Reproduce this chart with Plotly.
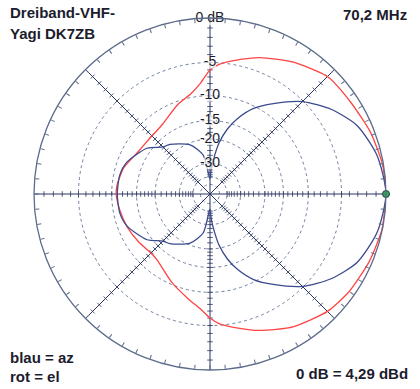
import plotly.graph_objects as go

# ---------------- data ----------------
az_theta = [0, 13, 25, 35, 45, 55, 63, 70, 75, 80, 83, 87, 90, 95, 100, 112, 129, 135, 144, 159, 168, 180,
            192, 201, 216, 225, 231, 248, 260, 265, 270, 273, 277, 280, 285, 290, 297, 305, 315, 325, 335, 347, 360]
az_db = [0, -0.45, -1.4, -3.0, -5.1, -8.0, -10.4, -13.5, -16.5, -21, -25.7, -33, -42, -35.6, -25.6, -20.6, -17.4, -16.7, -14.0, -11.7, -11.1, -11.0,
         -11.1, -11.7, -14.0, -16.7, -17.4, -20.6, -25.6, -35.6, -42, -33, -25.7, -21, -16.5, -13.5, -10.4, -8.0, -5.1, -3.0, -1.4, -0.45, 0]

el_theta = [0, 10, 21, 33, 45, 58, 70, 81, 86, 90, 95, 101, 110, 124, 137, 150, 163, 174, 180,
            190, 202, 214, 225, 231, 247, 259, 265, 270, 274, 280, 290, 302, 315, 325, 337, 348, 360]
el_db = [0, -0.1, -0.4, -0.8, -1.0, -2.1, -3.3, -4.6, -5.2, -6.0, -7.9, -9.4, -10.6, -12.6, -13.1, -12.8, -11.5, -10.9, -10.8,
         -11.2, -11.7, -12.3, -12.8, -12.6, -10.3, -8.4, -7.3, -6.0, -5.2, -4.5, -3.3, -2.0, -1.0, -0.6, -0.3, -0.05, 0]

ring_db = [-5, -10, -15, -20, -30, -40, -50]
label_db = [0, -5, -10, -15, -20, -30]
label_text = ["0 dB", "-5", "-10", "-15", "-20", "-30"]
axis_angles = [0, 45, 90, 135]
tick_db = list(range(-1, -21, -1)) + list(range(-22, -42, -2))


def rad(db):
    """ARRL log-periodic radial scale (0.89 per 2 dB)."""
    return 0.89 ** (-db / 2.0)


INK = "#1c1c2e"
RING = "#7080a2"
AXIS = "#2a3560"
BLUE = "#3a4a8e"
RED = "#ff4444"

fig = go.Figure()

# diameters
for a in axis_angles:
    fig.add_trace(go.Scatterpolar(r=[1, 0, 1], theta=[a, a, a + 180], mode="lines",
                                  line=dict(color=AXIS, width=1), hoverinfo="skip", showlegend=False))
    # ticks on diameters
    rr = [rad(d) for d in tick_db] * 2
    tt = [a] * len(tick_db) + [a + 180] * len(tick_db)
    fig.add_trace(go.Scatterpolar(r=rr, theta=tt, mode="markers",
                                  marker=dict(symbol="line-ns", size=4, angle=-a,
                                              line=dict(color=AXIS, width=0.8)),
                                  hoverinfo="skip", showlegend=False))

# patterns
fig.add_trace(go.Scatterpolar(r=[rad(d) for d in el_db], theta=el_theta, mode="lines",
                              line=dict(color=RED, width=1.3, shape="spline", smoothing=0.6),
                              name="el", showlegend=False))
fig.add_trace(go.Scatterpolar(r=[rad(d) for d in az_db], theta=az_theta, mode="lines",
                              line=dict(color=BLUE, width=1.3, shape="spline", smoothing=0.7),
                              name="az", showlegend=False))

# max point
fig.add_trace(go.Scatterpolar(r=[rad(0)], theta=[0], mode="markers",
                              marker=dict(color="#2fb050", size=7, line=dict(color="#1d4030", width=1)),
                              hoverinfo="skip", showlegend=False))

# ring labels
fig.add_trace(go.Scatterpolar(r=[rad(d) for d in label_db], theta=[90] * len(label_db),
                              mode="markers+text", text=label_text, textposition="middle center",
                              marker=dict(symbol="square", size=[14, 12, 12, 12, 12, 12], color="white",
                                          line=dict(width=0)),
                              textfont=dict(family="Liberation Sans, Arial", size=14, color=INK),
                              hoverinfo="skip", showlegend=False))

fig.update_layout(
    width=420, height=389,
    margin=dict(l=0, r=0, t=0, b=0),
    paper_bgcolor="white",
    polar=dict(
        domain=dict(x=[34 / 420, 386 / 420], y=[19 / 389, 371 / 389]),
        bgcolor="white",
        radialaxis=dict(range=[0, 1], tickvals=[rad(d) for d in ring_db], showticklabels=False,
                        ticks="", showline=False, gridcolor=RING, griddash="dot", gridwidth=1.2),
        angularaxis=dict(rotation=0, direction="counterclockwise", tickmode="linear", dtick=5,
                         ticks="inside", ticklen=4, tickcolor="#5c6b8a", tickwidth=1,
                         showticklabels=False, showgrid=False, showline=True,
                         linecolor="#5c6b8a", linewidth=1.3),
    ),
    font=dict(family="Liberation Sans, Arial", color=INK),
)

bold = dict(family="Liberation Sans, Arial", size=15, color=INK)
ann = [
    ("Dreiband-VHF-", 8, 13, "left"),
    ("Yagi DK7ZB", 8, 33, "left"),
    ("70,2 MHz", 409, 14, "right"),
    ("blau = az", 8, 357, "left"),
    ("rot = el", 8, 376, "left"),
    ("0 dB = 4,29 dBd", 410, 373, "right"),
]
for txt, x, y, al in ann:
    fig.add_annotation(text="<b>%s</b>" % txt, x=x / 420, y=1 - y / 389, xref="paper", yref="paper",
                       xanchor=al, yanchor="middle", showarrow=False, font=bold)

fig.write_html("out.html", config={"displayModeBar": False},
               post_script="document.body.style.margin='0';document.body.style.overflow='hidden';")
